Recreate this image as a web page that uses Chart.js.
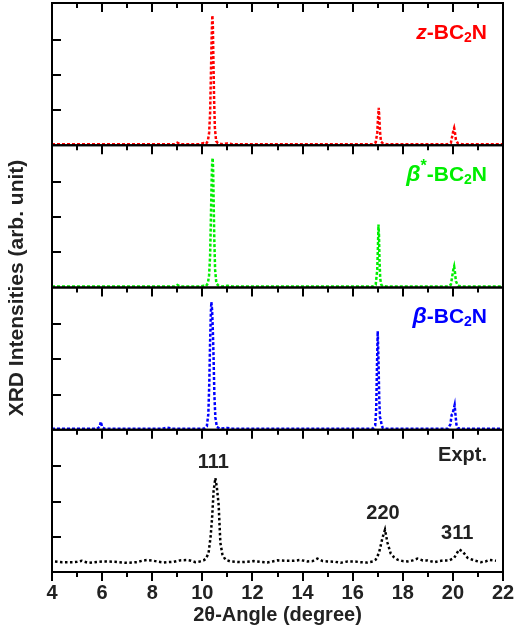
<!DOCTYPE html>
<html>
<head>
<meta charset="utf-8">
<script src="https://cdn.jsdelivr.net/npm/chart.js@4.4.1/dist/chart.umd.min.js"></script>
<style>
  html, body { margin: 0; padding: 0; background: #fff; }
  #wrap { width: 514px; height: 637px; }
</style>
</head>
<body>
<div id="wrap"><canvas id="xrd" width="514" height="637"></canvas></div>
<script>
// simulated patterns: 2-theta (deg) and intensity (arb.)
const zAngle = [4.0, 5.0, 6.0, 7.0, 8.0, 8.9, 9.0, 9.1, 9.9, 10.05, 10.15, 10.22, 10.27, 10.31, 10.34, 10.37, 10.39, 10.40, 10.42, 10.44, 10.47, 10.50, 10.55, 10.62, 10.8, 11.0, 11.2, 12.0, 13.0, 14.0, 15.0, 16.0, 16.8, 16.92, 16.98, 17.01, 17.04, 17.06, 17.09, 17.13, 17.2, 17.35, 18.0, 19.0, 19.8, 19.92, 19.98, 20.02, 20.05, 20.08, 20.12, 20.2, 20.35, 21.0, 22.0];
const zInt   = [0.03, 0.03, 0.03, 0.03, 0.03, 0.03, 0.07, 0.03, 0.03, 0.06, 0.04, 0.12, 0.35, 0.9, 1.9, 3.0, 3.5, 3.69, 3.4, 2.5, 1.3, 0.5, 0.12, 0.06, 0.03, 0.05, 0.03, 0.03, 0.03, 0.03, 0.03, 0.03, 0.03, 0.08, 0.35, 0.75, 1.06, 0.85, 0.4, 0.1, 0.06, 0.03, 0.03, 0.03, 0.03, 0.07, 0.28, 0.42, 0.49, 0.38, 0.15, 0.05, 0.03, 0.03, 0.03];

const bsAngle = [4.0, 5.0, 6.0, 7.0, 8.0, 8.9, 9.0, 9.1, 9.9, 10.05, 10.15, 10.22, 10.27, 10.31, 10.34, 10.37, 10.39, 10.41, 10.43, 10.45, 10.48, 10.51, 10.56, 10.63, 10.8, 11.0, 11.2, 12.0, 13.0, 14.0, 15.0, 16.0, 16.8, 16.92, 16.98, 17.01, 17.03, 17.05, 17.07, 17.1, 17.14, 17.2, 17.35, 18.0, 19.0, 19.8, 19.92, 19.98, 20.02, 20.05, 20.08, 20.12, 20.2, 20.35, 21.0, 22.0];
const bsInt   = [0.03, 0.03, 0.03, 0.03, 0.03, 0.03, 0.07, 0.03, 0.03, 0.05, 0.04, 0.12, 0.35, 0.9, 1.9, 3.0, 3.5, 3.68, 3.4, 2.5, 1.3, 0.5, 0.12, 0.06, 0.03, 0.05, 0.03, 0.03, 0.03, 0.03, 0.03, 0.03, 0.03, 0.08, 0.5, 1.2, 1.79, 1.5, 0.8, 0.25, 0.08, 0.04, 0.03, 0.03, 0.03, 0.03, 0.08, 0.35, 0.52, 0.6, 0.45, 0.18, 0.05, 0.03, 0.03, 0.03];

const bAngle = [4.0, 5.0, 5.8, 5.9, 5.95, 6.0, 6.1, 7.0, 8.4, 8.6, 8.8, 9.8, 10.05, 10.18, 10.24, 10.28, 10.31, 10.34, 10.36, 10.39, 10.42, 10.45, 10.48, 10.52, 10.58, 10.7, 11.0, 11.2, 12.0, 13.0, 14.0, 15.0, 16.0, 16.8, 16.9, 16.94, 16.97, 17.0, 17.03, 17.06, 17.09, 17.12, 17.15, 17.2, 17.35, 18.0, 19.0, 19.8, 19.9, 19.95, 19.99, 20.02, 20.07, 20.1, 20.14, 20.2, 20.35, 21.0, 22.0];
const bInt   = [0.03, 0.03, 0.03, 0.08, 0.23, 0.08, 0.03, 0.03, 0.03, 0.06, 0.03, 0.03, 0.03, 0.1, 0.45, 1.4, 2.5, 3.3, 3.63, 3.4, 2.8, 2.0, 1.0, 0.35, 0.08, 0.03, 0.05, 0.03, 0.03, 0.03, 0.03, 0.03, 0.03, 0.03, 0.12, 0.6, 1.8, 2.8, 2.0, 0.9, 0.35, 0.3, 0.15, 0.05, 0.03, 0.03, 0.03, 0.03, 0.15, 0.42, 0.45, 0.55, 0.7, 0.45, 0.15, 0.04, 0.03, 0.03, 0.03];

// measured pattern
const exAngle = [4.12, 4.4, 4.6, 4.85, 5.0, 5.19, 5.3, 5.45, 5.7, 6.0, 6.19, 6.5, 6.8, 6.99, 7.2, 7.39, 7.6, 7.79, 8.05, 8.25, 8.45, 8.65, 8.85, 9.1, 9.39, 9.55, 9.72, 9.9, 10.05, 10.15, 10.25, 10.33, 10.39, 10.45, 10.52, 10.58, 10.65, 10.72, 10.8, 10.92, 11.12, 11.3, 11.52, 11.8, 12.05, 12.3, 12.59, 12.8, 12.99, 13.3, 13.65, 13.9, 14.19, 14.4, 14.59, 14.8, 14.99, 15.3, 15.52, 15.8, 16.05, 16.3, 16.59, 16.8, 16.92, 17.05, 17.19, 17.29, 17.39, 17.52, 17.65, 17.79, 18.0, 18.19, 18.4, 18.59, 18.8, 18.99, 19.25, 19.45, 19.65, 19.85, 20.05, 20.25, 20.39, 20.59, 20.85, 21.12, 21.3, 21.45, 21.72];
const exInt   = [0.30, 0.28, 0.28, 0.28, 0.29, 0.32, 0.29, 0.26, 0.28, 0.30, 0.30, 0.29, 0.27, 0.26, 0.27, 0.28, 0.32, 0.34, 0.32, 0.29, 0.27, 0.28, 0.29, 0.33, 0.34, 0.32, 0.28, 0.30, 0.33, 0.38, 0.55, 1.0, 1.54, 2.3, 2.67, 2.4, 1.92, 0.83, 0.5, 0.35, 0.30, 0.29, 0.28, 0.29, 0.31, 0.29, 0.27, 0.30, 0.33, 0.32, 0.32, 0.34, 0.30, 0.31, 0.38, 0.31, 0.30, 0.29, 0.26, 0.30, 0.30, 0.28, 0.27, 0.30, 0.35, 0.54, 0.97, 1.2, 0.83, 0.52, 0.42, 0.35, 0.31, 0.30, 0.33, 0.38, 0.33, 0.33, 0.28, 0.31, 0.33, 0.33, 0.40, 0.64, 0.58, 0.40, 0.33, 0.28, 0.30, 0.34, 0.32];

const peakLabels = ['111', '220', '311'];
const peakAngle  = [10.52, 17.29, 20.25];
const peakInt    = [2.67, 1.2, 0.64];

const xTicks = [4, 6, 8, 10, 12, 14, 16, 18, 20, 22];

const RED = '#ff0000', GREEN = '#00ee00', BLUE = '#0000ff', INK = '#222222';
const FONT = '"Liberation Sans", Arial, sans-serif';

const pts = (xs, ys) => xs.map((x, i) => ({ x: x, y: ys[i] }));

function trace(label, xs, ys, color, axis, dash) {
  return {
    label: label,
    data: pts(xs, ys),
    yAxisID: axis,
    borderColor: color,
    backgroundColor: color,
    borderWidth: 2.5,
    borderDash: dash,
    pointRadius: 0,
    tension: 0,
    fill: false
  };
}

function panelAxis(weight) {
  return {
    type: 'linear',
    position: 'left',
    stack: 'xrd',
    stackWeight: 1,
    weight: weight,
    min: 0,
    max: 4.04,
    ticks: { display: false, stepSize: 1 },
    grid: { display: false, drawTicks: false },
    border: { display: false }
  };
}

// panel captions, drawn as runs so italics / sub- and superscripts line up
const captions = [
  { color: RED,   y: 33,  runs: [['z', 'italic', 21, 0], ['-BC', '', 21, 0], ['2', '', 14, 5], ['N', '', 21, 0]] },
  { color: GREEN, y: 175, runs: [['β', 'italic', 23, 0], ['*', '', 16, -8], ['-BC', '', 21, 0], ['2', '', 14, 5], ['N', '', 21, 0]] },
  { color: BLUE,  y: 317, runs: [['β', 'italic', 23, 0], ['-BC', '', 21, 0], ['2', '', 14, 5], ['N', '', 21, 0]] },
  { color: INK,   y: 455, runs: [['Expt.', '', 20, 0]] }
];

const framePlugin = {
  id: 'frames',
  afterDatasetsDraw(chart) {
    const ctx = chart.ctx, x = chart.scales.x;
    const left = chart.chartArea.left, right = chart.chartArea.right;
    ctx.save();
    ctx.strokeStyle = '#000';
    ctx.lineWidth = 2;
    ['yZ', 'yBs', 'yB', 'yEx'].forEach(id => {
      const s = chart.scales[id];
      ctx.strokeRect(left, s.top, right - left, s.bottom - s.top);
      // inward left ticks
      [1, 2, 3].forEach(v => {
        const py = Math.round(s.getPixelForValue(v));
        ctx.beginPath(); ctx.moveTo(left, py); ctx.lineTo(left + 9, py); ctx.stroke();
      });
      // downward ticks along top edge and (for the last panel) the bottom edge
      const edges = id === 'yEx' ? [s.top, s.bottom] : [s.top];
      edges.forEach(ey => {
        for (let a = 4; a <= 22; a++) {
          const px = Math.round(x.getPixelForValue(a));
          const len = a % 2 === 0 ? 9 : 5;
          ctx.beginPath(); ctx.moveTo(px, ey); ctx.lineTo(px, ey + len); ctx.stroke();
        }
      });
    });
    ctx.restore();
  },
  afterDraw(chart) {
    const ctx = chart.ctx, area = chart.chartArea;
    ctx.save();
    ctx.textBaseline = 'middle';
    // panel captions, right aligned
    captions.forEach(c => {
      let w = 0;
      c.runs.forEach(r => { ctx.font = `${r[1]} bold ${r[2]}px ${FONT}`; w += ctx.measureText(r[0]).width; });
      let px = area.right - 16 - w;
      ctx.fillStyle = c.color;
      ctx.textAlign = 'left';
      c.runs.forEach(r => {
        ctx.font = `${r[1]} bold ${r[2]}px ${FONT}`;
        ctx.fillText(r[0], px, c.y + r[3]);
        px += ctx.measureText(r[0]).width;
      });
    });
    // reflection indices above the measured peaks
    const xs = chart.scales.x, ys = chart.scales.yEx;
    ctx.font = `bold 20px ${FONT}`;
    ctx.fillStyle = INK;
    ctx.textAlign = 'center';
    peakLabels.forEach((t, i) => {
      ctx.fillText(t, xs.getPixelForValue(peakAngle[i]) - 2, ys.getPixelForValue(peakInt[i]) - 16);
    });
    // axis titles
    ctx.fillText('2θ-Angle (degree)', (area.left + area.right) / 2, 615);
    ctx.translate(17, 288);
    ctx.rotate(-Math.PI / 2);
    ctx.font = `bold 21px ${FONT}`;
    ctx.fillText('XRD Intensities (arb. unit)', 0, 0);
    ctx.restore();
  }
};

new Chart(document.getElementById('xrd'), {
  type: 'line',
  data: {
    datasets: [
      trace('z-BC2N', zAngle, zInt, RED, 'yZ', [3, 2]),
      trace('beta*-BC2N', bsAngle, bsInt, GREEN, 'yBs', [3, 2]),
      trace('beta-BC2N', bAngle, bInt, BLUE, 'yB', [3, 2]),
      trace('Expt.', exAngle, exInt, '#000', 'yEx', [2.5, 2.5])
    ]
  },
  options: {
    responsive: false,
    animation: false,
    devicePixelRatio: 1,
    layout: { padding: { left: 52, right: 11, top: 3, bottom: 23 } },
    plugins: { legend: { display: false }, tooltip: { enabled: false } },
    scales: {
      x: {
        type: 'linear',
        min: 4,
        max: 22,
        afterBuildTicks: axis => { axis.ticks = xTicks.map(v => ({ value: v })); },
        // end labels may hang into the outer padding
        afterFit: axis => { axis.paddingLeft = 0; axis.paddingRight = 0; },
        ticks: { color: INK, padding: 11, maxRotation: 0, font: { family: FONT, size: 20, weight: 'bold', lineHeight: 1 } },
        grid: { display: false, drawTicks: false },
        border: { display: false }
      },
      yEx: panelAxis(1),
      yB: panelAxis(2),
      yBs: panelAxis(3),
      yZ: panelAxis(4)
    }
  },
  plugins: [framePlugin]
});
</script>
</body>
</html>
